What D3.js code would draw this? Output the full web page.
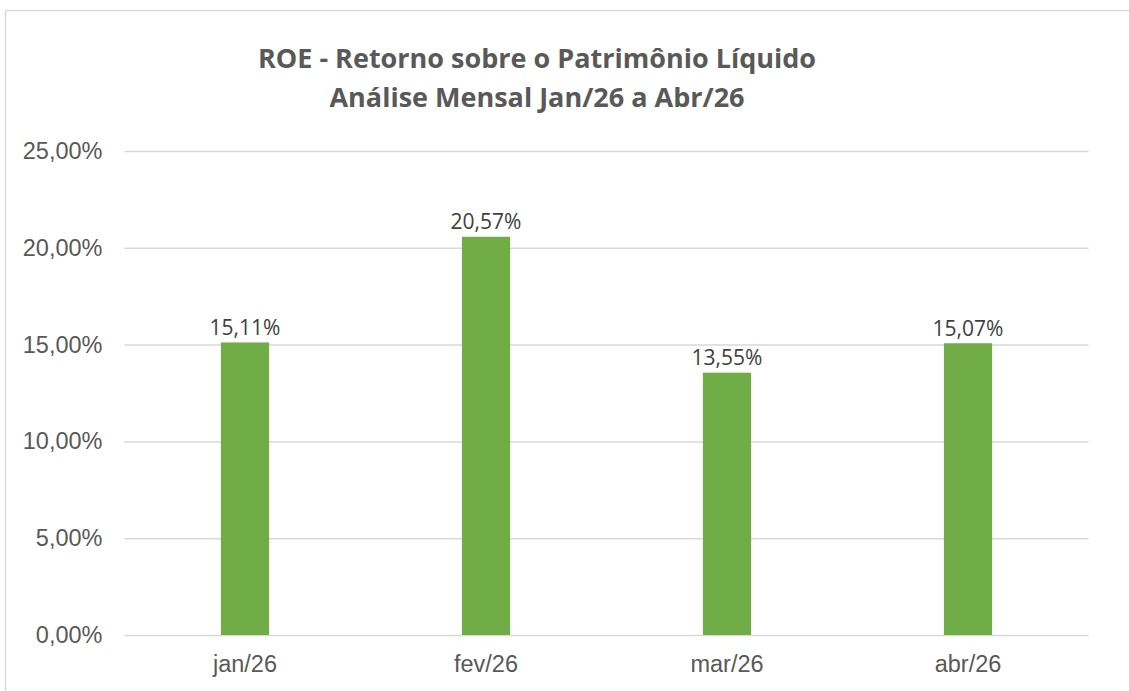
<!DOCTYPE html>
<html>
<head>
<meta charset="utf-8">
<script src="https://cdn.jsdelivr.net/npm/d3@7"></script>
<style>
  body { margin: 0; background: #fff; }
  svg { display: block; }
</style>
</head>
<body>
<svg id="chart" width="1129" height="691"></svg>
<script>
// data
const months = ["jan/26", "fev/26", "mar/26", "abr/26"];
const roeValues = [15.11, 20.57, 13.55, 15.07];
const yTicks = [0, 5, 10, 15, 20, 25];
const titleLines = ["ROE - Retorno sobre o Patrimônio Líquido", "Análise Mensal Jan/26 a Abr/26"];

const svg = d3.select("#chart");
const width = +svg.attr("width"), height = +svg.attr("height");

// outer chart frame (runs off the right/bottom edge like the screenshot)
svg.append("rect")
    .attr("x", 5.5).attr("y", 10.5)
    .attr("width", width + 10).attr("height", height + 10)
    .attr("fill", "none")
    .attr("stroke", "#d9d9d9")
    .attr("stroke-width", 1.5);

const plot = {left: 124.5, right: 1088.5, top: 151, bottom: 635};

const x = d3.scaleBand()
    .domain(months)
    .range([plot.left, plot.right])
    .paddingInner(0.8)
    .paddingOuter(0.4);

const y = d3.scaleLinear()
    .domain([0, 25])
    .range([plot.bottom, plot.top]);

const fmt = v => v.toFixed(2).replace(".", ",") + "%";

// gridlines + y labels
const yAxis = svg.append("g")
    .attr("transform", "translate(" + plot.left + ",0)")
    .call(d3.axisLeft(y).tickValues(yTicks).tickSize(-(plot.right - plot.left)).tickPadding(22).tickFormat(fmt));
yAxis.select(".domain").remove();
yAxis.selectAll(".tick line").attr("stroke", "#d9d9d9").attr("stroke-width", 1.5);
yAxis.selectAll(".tick text")
    .attr("fill", "#595959")
    .style("font-family", "'Liberation Sans', Arial, sans-serif")
    .style("font-size", "23.5px");

// bars
svg.append("g").selectAll("rect")
  .data(roeValues)
  .enter().append("rect")
    .attr("x", (d, i) => x(months[i]))
    .attr("y", d => y(d))
    .attr("width", x.bandwidth())
    .attr("height", d => y(0) - y(d))
    .attr("fill", "#70ad47");

// value labels
svg.append("g").selectAll("text")
  .data(roeValues)
  .enter().append("text")
    .attr("x", (d, i) => x(months[i]) + x.bandwidth() / 2)
    .attr("y", d => y(d) - 7.5)
    .attr("text-anchor", "middle")
    .attr("fill", "#404040")
    .style("font-family", "'Open Sans', sans-serif")
    .style("font-size", "21px")
    .text(fmt);

// x axis labels
const xAxis = svg.append("g")
    .attr("transform", "translate(0," + plot.bottom + ")")
    .call(d3.axisBottom(x).tickSize(0).tickPadding(20));
xAxis.select(".domain").remove();
xAxis.selectAll(".tick text")
    .attr("fill", "#595959")
    .style("font-family", "'Liberation Sans', Arial, sans-serif")
    .style("font-size", "23.5px");

// title
svg.append("g").selectAll("text")
  .data(titleLines)
  .enter().append("text")
    .attr("x", 537)
    .attr("y", (d, i) => 68 + i * 39)
    .attr("text-anchor", "middle")
    .attr("fill", "#595959")
    .style("font-family", "'Open Sans', sans-serif")
    .style("font-weight", "bold")
    .style("font-size", "27px")
    .text(d => d);
</script>
</body>
</html>
